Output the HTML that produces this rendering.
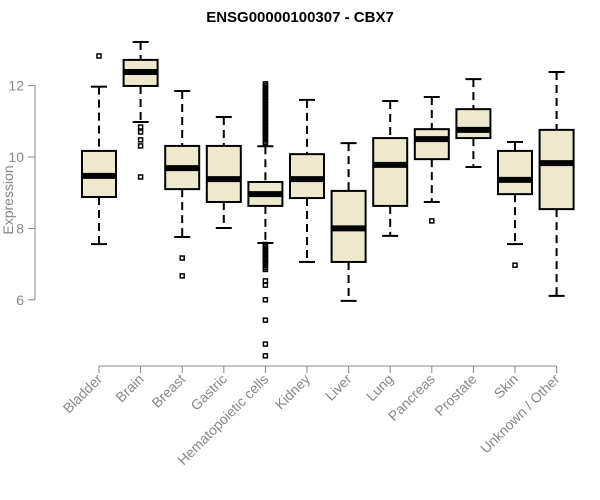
<!DOCTYPE html>
<html><head><meta charset="utf-8"><style>body{margin:0;background:#fff}svg{display:block}</style></head>
<body>
<svg id="chart" width="600" height="500" xmlns="http://www.w3.org/2000/svg" font-family="Liberation Sans, sans-serif"></svg>
<script>
const categories=["Bladder","Brain","Breast","Gastric","Hematopoietic cells","Kidney","Liver","Lung","Pancreas","Prostate","Skin","Unknown / Other"];
const whiskerLow=[7.56,10.98,7.76,8.01,7.59,7.06,5.97,7.79,8.74,9.72,7.56,6.11];
const q1=[8.88,11.99,9.10,8.74,8.63,8.85,7.06,8.63,9.94,10.53,8.96,8.54];
const medians=[9.47,12.38,9.69,9.38,8.96,9.38,8.0,9.78,10.5,10.76,9.36,9.83];
const q3=[10.17,12.72,10.31,10.31,9.30,10.08,9.05,10.53,10.78,11.34,10.17,10.76];
const whiskerHigh=[11.97,13.22,11.85,11.12,10.30,11.6,10.39,11.57,11.68,12.18,10.42,12.38];
const outliers=[[12.83],[10.84,10.70,10.48,10.31,9.44],[7.17,6.67],[],
[12.05,12.0,11.95,11.9,11.85,11.8,11.75,11.7,11.65,11.6,11.55,11.5,11.45,11.4,11.35,11.3,11.25,11.2,11.15,11.1,11.05,11.0,10.95,10.9,10.85,10.8,10.75,10.7,10.65,10.6,10.55,10.5,10.45,10.4,
7.55,7.5,7.45,7.4,7.35,7.3,7.25,7.2,7.15,7.1,7.05,7.0,6.95,6.9,6.85,6.53,6.41,6.0,5.43,4.76,4.43],
[],[],[],[8.21],[],[6.97],[]];
const yTicks=[6,8,10,12];
const NS="http://www.w3.org/2000/svg",svg=document.getElementById("chart");
const y=v=>157-(v-10)*35.7;
const x=i=>99+i*41.6;
function el(t,a,p){const e=document.createElementNS(NS,t);for(const k in a)e.setAttribute(k,a[k]);(p||svg).appendChild(e);return e;}
const title=el("text",{x:300,y:22,"text-anchor":"middle","font-size":15,"font-weight":"bold"});title.textContent="ENSG00000100307 - CBX7";


const yl=el("text",{x:13,y:200,"text-anchor":"middle","font-size":14,fill:"#888",transform:"rotate(-90 13 200)"});yl.textContent="Expression";


const ya=el("line",{x1:35,x2:35,y1:y(12),y2:y(6),stroke:"#888"});


yTicks.forEach(t=>{el("line",{x1:28,x2:35,y1:y(t),y2:y(t),stroke:"#888"});
const tl=el("text",{x:24,y:y(t)+5,"text-anchor":"end","font-size":14,fill:"#888"});tl.textContent=t;

});
const xa=el("line",{x1:x(0),x2:x(11),y1:366,y2:366,stroke:"#888"});


categories.forEach((c,i)=>{const cx=x(i);
el("line",{x1:cx,x2:cx,y1:366,y2:373,stroke:"#888"});
const t=el("text",{x:cx+4,y:380,"text-anchor":"end","font-size":14,fill:"#888",transform:`rotate(-45 ${cx+4} 380)`});t.textContent=c;


const g=el("g",{});


el("line",{x1:cx,x2:cx,y1:y(whiskerHigh[i]),y2:y(q3[i]),stroke:"#000","stroke-width":2,"stroke-dasharray":"8,5"},g);
el("line",{x1:cx,x2:cx,y1:y(q1[i]),y2:y(whiskerLow[i]),stroke:"#000","stroke-width":2,"stroke-dasharray":"8,5"},g);
el("line",{x1:cx-8,x2:cx+8,y1:y(whiskerHigh[i]),y2:y(whiskerHigh[i]),stroke:"#000","stroke-width":2},g);
el("line",{x1:cx-8,x2:cx+8,y1:y(whiskerLow[i]),y2:y(whiskerLow[i]),stroke:"#000","stroke-width":2},g);
el("rect",{x:cx-17,y:y(q3[i]),width:34,height:y(q1[i])-y(q3[i]),fill:"#EEE8CD",stroke:"#000","stroke-width":2},g);
el("line",{x1:cx-17,x2:cx+17,y1:y(medians[i]),y2:y(medians[i]),stroke:"#000","stroke-width":6},g);
outliers[i].forEach(v=>{const o=el("rect",{x:cx-2,y:y(v)-2,width:4,height:4,fill:"none",stroke:"#000","stroke-width":1.5},g);

});
});
</script>
</body></html>
